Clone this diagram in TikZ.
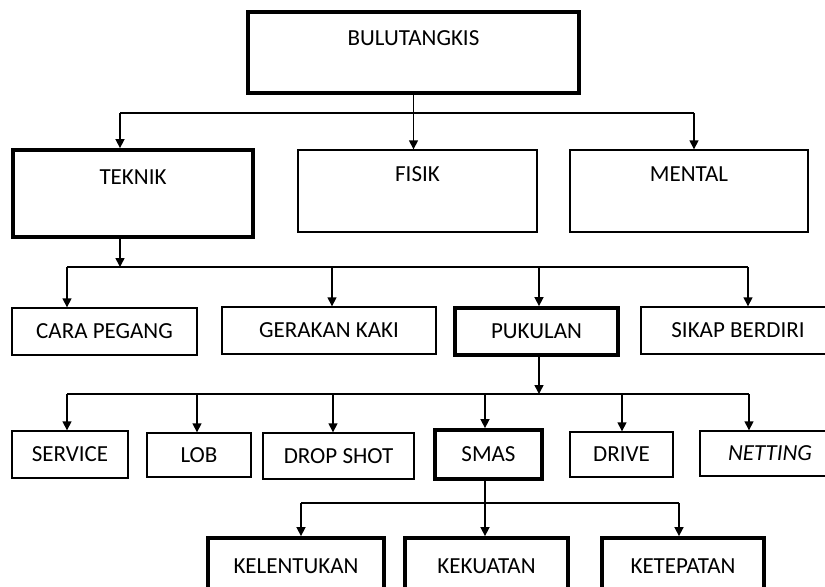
\documentclass[tikz,border=0pt]{standalone}
\usepackage{fontspec}
\setmainfont{Carlito}
\usetikzlibrary{arrows.meta}

\tikzset{
  box/.style={draw, line width=0.7pt, inner sep=0pt, font=\fontsize{11.5}{14}\selectfont},
  boldbox/.style={box, line width=1.9pt},
  arr/.style={line width=0.75pt, -{Triangle[length=4.5pt,width=4.5pt]}},
  bus/.style={line width=0.75pt},
}

\begin{document}
\begin{tikzpicture}[x=0.5pt,y=-0.5pt]

        \useasboundingbox (0,0) rectangle (825,586);
        \clip (0,0) rectangle (825,586);

        % Top
        \node[boldbox, minimum width=165.5pt, text height=16.7pt, text depth=23.8pt] (bulu) at (413.5,52.5) {BULUTANGKIS};

        % Second row
        \node[boldbox, minimum width=120pt, text height=17.2pt, text depth=26.3pt] (teknik) at (133,193.5) {TEKNIK};
        \node[box, minimum width=119.5pt, text height=15.7pt, text depth=25.3pt] (fisik) at (417.5,191) {FISIK};
        \node[box, minimum width=119pt, text height=15.7pt, text depth=25.3pt] (mental) at (689,191) {MENTAL};

        \coordinate (t-teknik) at (120,113);
        \coordinate (t-mental) at (694,113);
        \draw[bus] (t-teknik) -- (t-mental);
        \draw[arr] (bulu.south) -- (bulu.south |- fisik.north);
        \draw[arr] (t-teknik) -- (t-teknik |- teknik.north);
        \draw[arr] (t-mental) -- (t-mental |- mental.north);

        % Teknik
        \node[box, minimum width=92.5pt, minimum height=23.5pt] (cara) at (104.5,331.5) {CARA PEGANG};
        \node[box, minimum width=107pt, minimum height=23.5pt] (gerakan) at (329,330.5) {GERAKAN KAKI};
        \node[boldbox, minimum width=81.5pt, minimum height=23.5pt] (pukulan) at (536.5,331.5) {PUKULAN};
        \node[box, minimum width=97pt, minimum height=23.5pt] (sikap) at (738,330.5) {SIKAP BERDIRI};

        \coordinate (b2) at (120,267);
        \draw[arr] (t-teknik |- teknik.south) -- (b2);
        \foreach \n/\x in {cara/67, gerakan/332, pukulan/539, sikap/748}
        {
            \coordinate (t-\n) at (\x,267);
            \draw[arr] (t-\n) -- (t-\n |- \n.north);
        }
        \draw[bus] (t-cara) -- (t-sikap);

        % Pukulan
        \node[box, minimum width=58pt, minimum height=23.5pt] (service) at (70,454.5) {SERVICE};
        \node[box, minimum width=52pt, minimum height=22pt] (lob) at (199,455) {LOB};
        \node[box, minimum width=75.5pt, minimum height=23pt] (drop) at (338.5,456) {DROP SHOT};
        \node[boldbox, minimum width=53.5pt, minimum height=24.5pt] (smas) at (488.5,454.5) {SMAS};
        \node[box, minimum width=51.5pt, minimum height=22.5pt] (drive) at (621.5,454.5) {DRIVE};
        \node[box, minimum width=70pt, minimum height=22.5pt] (netting) at (770,453.5) {\itshape NETTING};

        \coordinate (b3) at (539,394);
        \draw[arr] (b3 |- pukulan.south) -- (b3);
        \foreach \n/\x in {service/67, lob/197, drop/333, smas/485, drive/622, netting/749}
        {
            \coordinate (t-\n) at (\x,394);
            \draw[arr] (t-\n) -- (t-\n |- \n.north);
        }
        \draw[bus] (t-service) -- (t-netting);

        % Smas
        \node[boldbox, minimum width=88pt, minimum height=28pt] (kelentukan) at (296,566) {KELENTUKAN};
        \node[boldbox, minimum width=81.5pt, minimum height=28pt] (kekuatan) at (486.5,566) {KEKUATAN};
        \node[boldbox, minimum width=81pt, minimum height=28pt] (ketepatan) at (683,566) {KETEPATAN};

        \coordinate (t-kelentukan) at (301,503);
        \coordinate (t-ketepatan) at (679,503);
        \draw[bus] (t-kelentukan) -- (t-ketepatan);
        \draw[arr] (t-smas |- smas.south) -- (t-smas |- kekuatan.north);
        \draw[arr] (t-kelentukan) -- (t-kelentukan |- kelentukan.north);
        \draw[arr] (t-ketepatan) -- (t-ketepatan |- ketepatan.north);

    \end{tikzpicture}
\end{document}
